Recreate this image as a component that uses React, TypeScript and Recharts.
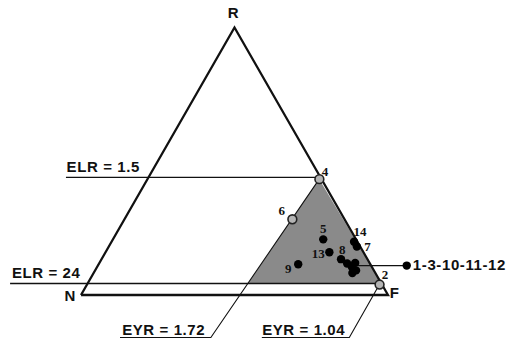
import React from 'react';
import { ComposedChart, XAxis, YAxis, Scatter } from 'recharts';

// Ternary emergy diagram: R (renewable) at the apex, N (non-renewable) bottom-left,
// F (feedback) bottom-right. Plot units: x = F + R/2 (percent of side), y = R (percent of height).

// Samples, as percentages of R and F (N = 100 - R - F)
const sampleIds = ['1', '2', '3', '4', '5', '6', '7', '8', '9', '10', '11', '12', '13', '14'];
const renewablePct = [11.8, 3.9, 12.0, 43.3, 20.8, 28.3, 18.1, 13.4, 11.5, 10.5, 9.2, 8.2, 16.0, 19.9];
const feedbackPct = [80.8, 95.3, 83.3, 56.0, 68.5, 54.7, 80.8, 78.0, 65.0, 83.0, 85.0, 84.3, 72.9, 79.0];
const hollowIds = ['2', '4', '6'];

// Triangle vertices (N, F, R) in plot units
const vertexX = [0, 100, 50];
const vertexY = [0, 0, 100];

// Sustainable region (shaded), bounded by ELR = 24 line and EYR = 1.72 line
const regionX = [54.4, 77.6, 97.9];
const regionY = [4.3, 43.3, 4.3];

// Reference lines (plot units)
const elrHighX = [-4.9, 77.6];
const elrHighY = [44.0, 44.0];
const elrLowX = [-23.1, 97.2];
const elrLowY = [4.3, 4.3];
const eyrHighX = [77.6, 42.3, 12.7];
const eyrHighY = [43.3, -15.9, -15.9];
const eyrLowX = [97.2, 87.4, 58.9];
const eyrLowY = [3.9, -15.9, -15.9];
const groupLeaderX = [90.2, 106.1];
const groupLeaderY = [11.0, 11.0];

// Text annotations
const axisLabels = ['R', 'N', 'F'];
const axisLabelX = [49.6, -3.6, 100.6];
const axisLabelY = [103.6, -2.2, -1.1];
const axisLabelAnchor = ['middle', 'middle', 'start'];

const refLabels = ['ELR = 1.5', 'ELR = 24', 'EYR = 1.72', 'EYR = 1.04', '1-3-10-11-12'];
const refLabelX = [-4.7, -22.5, 13.4, 59.0, 108.1];
const refLabelY = [46.0, 6.4, -14.8, -14.8, 9.35];

const pointLabels = ['4', '6', '5', '14', '7', '13', '8', '9', '2'];
const pointLabelX = [79.5, 65.4, 78.9, 90.9, 93.3, 77.3, 85.1, 67.5, 99.0];
const pointLabelY = [44.5, 29.9, 23.0, 21.9, 16.3, 14.0, 15.3, 8.2, 6.0];

const X_DOMAIN: [number, number] = [-26.384, 139.414];
const Y_DOMAIN: [number, number] = [-17.196, 110.28];

const zipXY = (xs: number[], ys: number[]) => xs.map((x, i) => ({ x, y: ys[i] }));

const samples = sampleIds.map((id, i) => ({
  id,
  x: feedbackPct[i] + renewablePct[i] / 2,
  y: renewablePct[i],
}));
const solidPoints = samples.filter((s) => !hollowIds.includes(s.id));
const hollowPoints = samples.filter((s) => hollowIds.includes(s.id));

const outline = zipXY([...vertexX, vertexX[0]], [...vertexY, vertexY[0]]);
const region = zipXY(regionX, regionY);
const groupDot = [{ x: groupLeaderX[1], y: groupLeaderY[1] }];

const axisText = axisLabels.map((t, i) => ({ t, x: axisLabelX[i], y: axisLabelY[i], a: axisLabelAnchor[i] }));
const refText = refLabels.map((t, i) => ({ t, x: refLabelX[i], y: refLabelY[i] }));
const pointText = pointLabels.map((t, i) => ({ t, x: pointLabelX[i], y: pointLabelY[i] }));

const SANS = '"Liberation Sans", Arial, sans-serif';
const SERIF = '"Liberation Serif", "Times New Roman", serif';

const noMarker = () => <g />;

const solidDot = (p: any) => <circle cx={p.cx} cy={p.cy} r={4.2} fill="#000" />;
const hollowDot = (p: any) => (
  <circle cx={p.cx} cy={p.cy} r={4.4} fill="#b4b4b4" stroke="#222" strokeWidth={1.6} />
);

const axisTextShape = (p: any) => (
  <text x={p.cx} y={p.cy} textAnchor={p.payload.a} fontFamily={SANS} fontWeight="bold" fontSize={15} fill="#111">
    {p.payload.t}
  </text>
);
const refTextShape = (p: any) => (
  <text x={p.cx} y={p.cy} textAnchor="start" fontFamily={SANS} fontWeight="bold" fontSize={15} letterSpacing={0.6} fill="#111">
    {p.payload.t}
  </text>
);
const pointTextShape = (p: any) => (
  <text x={p.cx} y={p.cy} textAnchor="middle" fontFamily={SERIF} fontWeight="bold" fontSize={13} fill="#111">
    {p.payload.t}
  </text>
);

const thin = { stroke: '#111', strokeWidth: 1.3 };

export default function App() {
  return (
    <div style={{ position: 'absolute', left: 0, top: 0, width: 509, height: 341, background: '#fff' }}>
      <ComposedChart width={509} height={341} margin={{ top: 0, right: 0, bottom: 0, left: 0 }}>
        <XAxis type="number" dataKey="x" domain={X_DOMAIN} hide />
        <YAxis type="number" dataKey="y" domain={Y_DOMAIN} hide />

        <Scatter data={region} line={{ stroke: 'none', fill: '#8a8a8a' }} shape={noMarker} isAnimationActive={false} />
        <Scatter data={zipXY(elrHighX, elrHighY)} line={thin} shape={noMarker} isAnimationActive={false} />
        <Scatter data={zipXY(elrLowX, elrLowY)} line={thin} shape={noMarker} isAnimationActive={false} />
        <Scatter data={zipXY(eyrHighX, eyrHighY)} line={{ stroke: '#111', strokeWidth: 1.1 }} shape={noMarker} isAnimationActive={false} />
        <Scatter data={zipXY(eyrLowX, eyrLowY)} line={{ stroke: '#111', strokeWidth: 1.1 }} shape={noMarker} isAnimationActive={false} />
        <Scatter data={zipXY(groupLeaderX, groupLeaderY)} line={thin} shape={noMarker} isAnimationActive={false} />
        <Scatter
          data={outline}
          line={{ stroke: '#111', strokeWidth: 2.3, strokeLinejoin: 'miter' }}
          shape={noMarker}
          isAnimationActive={false}
        />

        <Scatter data={solidPoints} shape={solidDot} isAnimationActive={false} />
        <Scatter data={groupDot} shape={solidDot} isAnimationActive={false} />
        <Scatter data={hollowPoints} shape={hollowDot} isAnimationActive={false} />

        <Scatter data={axisText} shape={axisTextShape} isAnimationActive={false} />
        <Scatter data={refText} shape={refTextShape} isAnimationActive={false} />
        <Scatter data={pointText} shape={pointTextShape} isAnimationActive={false} />
      </ComposedChart>
    </div>
  );
}
